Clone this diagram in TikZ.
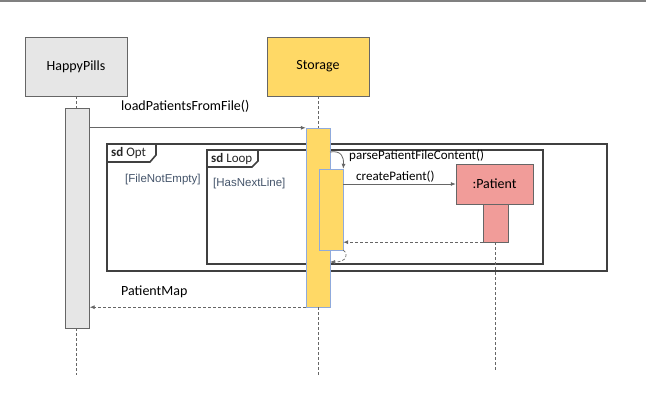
\documentclass[tikz,border=0pt]{standalone}
\usepackage{fontspec}
\setmainfont{Carlito}
\newfontfamily\guardfont{Liberation Sans}
\usetikzlibrary{arrows.meta}

\definecolor{boxgray}{RGB}{230,230,230}
\definecolor{boxyellow}{RGB}{255,217,102}
\definecolor{boxred}{RGB}{241,156,153}
\definecolor{edgegray}{RGB}{102,102,102}
\definecolor{edgeblue}{RGB}{143,170,220}
\definecolor{framegray}{RGB}{64,64,64}
\definecolor{guardblue}{RGB}{68,84,106}

\begin{document}
\begin{tikzpicture}[x=1pt,y=-1pt,
    participant/.style ={rectangle, draw=edgegray, minimum width=102pt, minimum height=59pt, inner sep=0pt, font=\fontsize{14}{16}\selectfont},
    activation/.style ={rectangle, draw=edgeblue, fill=boxyellow, minimum width=24pt, inner sep=0pt},
    lifeline/.style ={edgegray, dashed, dash pattern=on 3pt off 2pt, line width=0.6pt},
    message/.style ={edgegray, line width=0.8pt, -{Latex[length=5pt,width=4pt]}},
    reply/.style ={edgegray, line width=0.7pt, dash pattern=on 3pt off 2pt, -{Latex[length=5pt,width=4pt]}},
    frame/.style ={draw=framegray, line width=1.6pt},
    msglabel/.style ={anchor=west, inner sep=0pt, font=\fontsize{14}{16}\selectfont},
    guard/.style ={anchor=west, inner sep=0pt, text=guardblue, font=\guardfont\fontsize{11.5}{13}\selectfont}]
   \useasboundingbox (0,0) rectangle (646,399);
   \draw[gray, line width=2pt] (0,1) -- (646,1);

   % frames first, bars go on top of them
   \draw[frame] (107,144) rectangle (607,271);
   \draw[frame] (107,162) -- (150,162) -- (156,155) -- (156,144);
   \node[anchor=west, inner sep=0pt, text=black!85, font=\fontsize{13}{15}\selectfont] (optname) at (111,153) {\textbf{sd} Opt};
   \node[guard] (optguard) at (125,180) {[FileNotEmpty]};

   \draw[frame] (207,150) rectangle (543,264);
   \draw[frame] (207,167) -- (252,167) -- (258,161) -- (258,150);
   \node[anchor=west, inner sep=0pt, text=black!85, font=\fontsize{13}{15}\selectfont] (loopname) at (211,158.5) {\textbf{sd} Loop};
   \node[guard] (loopguard) at (213,184) {[HasNextLine]};

   \node[participant, fill=boxgray] (happy) at (76,66.5) {HappyPills};
   \node[participant, fill=boxyellow] (storage) at (318,66.5) {Storage};
   \node[rectangle, draw=edgegray, fill=boxred, minimum width=77pt, minimum height=40pt, inner sep=0pt, font=\fontsize{14}{16}\selectfont] (patient) at (494.5,184) {:Patient};

   \node[activation, draw=edgegray, fill=boxgray, minimum height=220pt] (happybar) at (77.5,218) {};
   \node[activation, minimum height=179pt] (storebar) at (318,217.5) {};
   \node[activation, minimum height=81pt] (innerbar) at (331,209.5) {};
   \node[activation, draw=edgegray, fill=boxred, minimum width=25pt, minimum height=38pt] (patbar) at (495.5,223) {};

   \coordinate (happyend) at (76,375);
   \coordinate (storeend) at (318,375);
   \coordinate (patend) at (495,370);
   \coordinate (parsefrom) at (330,152);
   \coordinate (backto) at (330,262);

   \draw[lifeline] (happy.south -| happyend) to (happybar.north -| happyend);
   \draw[lifeline] (happybar.south -| happyend) to (happyend);
   \draw[lifeline] (storage.south) to (storebar.north);
   \draw[lifeline] (storebar.south) to (storeend);
   \draw[lifeline] (patbar.south -| patend) to (patend);

   \draw[message] (happybar.east |- storebar.north west) to (storebar.north west);
   \node[msglabel] (loadlabel) at (121,106) {loadPatientsFromFile()};

   \draw[message] (parsefrom) .. controls (342,150) and (344,158) .. (innerbar.north east);
   \node[msglabel, font=\fontsize{13}{15}\selectfont] (parselabel) at (349,156) {parsePatientFileContent()};

   \draw[message] (innerbar.east |- patient.west) to (patient.west);
   \node[msglabel, font=\fontsize{13}{15}\selectfont] (createlabel) at (356,177) {createPatient()};

   \draw[reply] (patbar.south west) to (innerbar.east |- patbar.south west);
   \draw[reply] (innerbar.south east) .. controls (349,254) and (347,262) .. (backto);

   \draw[reply] (storebar.south west) to (happybar.east |- storebar.south west);
   \node[msglabel] (maplabel) at (121,292) {PatientMap};
 \end{tikzpicture}
\end{document}
